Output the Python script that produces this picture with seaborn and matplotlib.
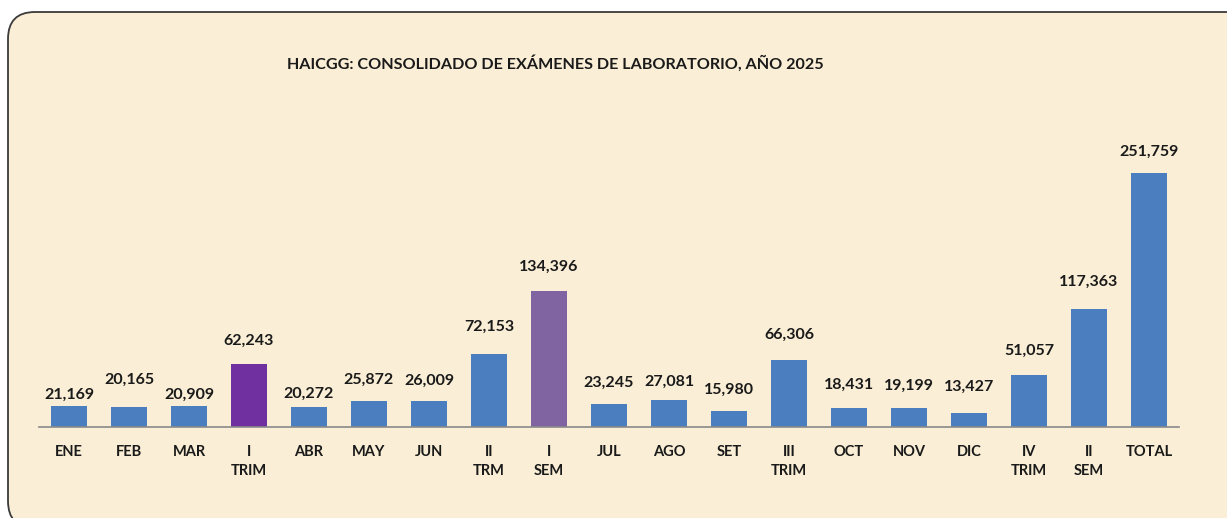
import matplotlib
matplotlib.use("Agg")
import matplotlib.pyplot as plt
from matplotlib.patches import FancyBboxPatch
import seaborn as sns
import pandas as pd

categories = ["ENE", "FEB", "MAR", "I\nTRIM", "ABR", "MAY", "JUN", "II\nTRM", "I\nSEM",
              "JUL", "AGO", "SET", "III\nTRIM", "OCT", "NOV", "DIC", "IV\nTRIM", "II\nSEM", "TOTAL"]
values = [21169, 20165, 20909, 62243, 20272, 25872, 26009, 72153, 134396,
          23245, 27081, 15980, 66306, 18431, 19199, 13427, 51057, 117363, 251759]
title = "HAICGG: CONSOLIDADO DE EXÁMENES DE LABORATORIO, AÑO 2025"

# styling
BLUE = "#4A7EBF"
colors = {c: BLUE for c in categories}
colors["I\nTRIM"] = "#7030A0"
colors["I\nSEM"] = "#8064A2"
label_offsets = [3, 14, 3, 12, 4, 10, 9, 15, 13, 10, 8, 10, 13, 12, 11, 14, 13, 14, 10]

sns.set_theme(style="white")
plt.rcParams["font.family"] = ["Lato", "DejaVu Sans"]

df = pd.DataFrame({"cat": categories, "val": values})

fig = plt.figure(figsize=(12.27, 5.18), dpi=100)
fig.patch.set_facecolor("white")
W, H = 1227, 518

# rounded border panel
panel = FancyBboxPatch((8 / W, -10 / H), 1300 / W, (518 - 12 + 10) / H,
                       boxstyle="round,pad=0,rounding_size=0.022",
                       transform=fig.transFigure, facecolor="#FAEFD6",
                       edgecolor="#3a3a3a", linewidth=1.3, zorder=-10,
                       mutation_aspect=W / H)
fig.patches.append(panel)

ax = fig.add_axes([39 / W, 91 / H, 1140 / W, 327 / H])
ax.set_zorder(5)
ax.patch.set_alpha(0)
sns.barplot(data=df, x="cat", y="val", hue="cat", palette=colors, legend=False,
            width=0.61, saturation=1, linewidth=0, ax=ax, zorder=2)

ax.set_xlim(-0.5, len(categories) - 0.5)
ax.set_ylim(0, 324000)
for s in ["top", "right", "left"]:
    ax.spines[s].set_visible(False)
ax.spines["bottom"].set_color("#8a8a8a")
ax.spines["bottom"].set_linewidth(1.2)
ax.set_yticks([])
ax.set_xlabel("")
ax.set_ylabel("")
ax.tick_params(axis="x", length=0, pad=13)
ax.set_xticks(range(len(categories)))
ax.set_xticklabels(categories, fontsize=10.5, fontweight="bold", color="#1a1a1a",
                   linespacing=1.45, va="top")

for i, (v, off) in enumerate(zip(values, label_offsets)):
    ax.annotate(f"{v:,}", (i, v), xytext=(0, off), textcoords="offset points",
                ha="center", va="bottom", fontsize=11.5, fontweight="bold", color="#1a1a1a")

fig.text(555 / W, 1 - 63 / H, title, ha="center", va="center",
         fontsize=11.6, fontweight="bold", color="#1a1a1a")

fig.savefig("out.png", dpi=100, facecolor="white")
